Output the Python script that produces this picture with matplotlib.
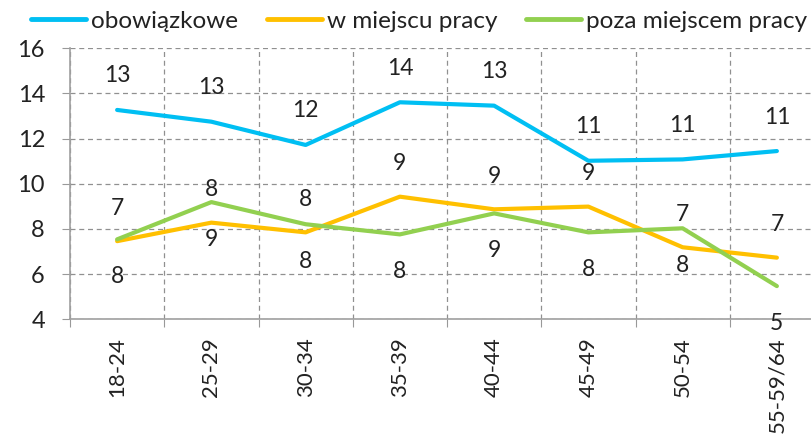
import matplotlib
matplotlib.use("Agg")
import matplotlib.pyplot as plt
import numpy as np

categories = ["18-24", "25-29", "30-34", "35-39", "40-44", "45-49", "50-54", "55-59/64"]
obowiazkowe = [13.27, 12.75, 11.72, 13.61, 13.46, 11.02, 11.08, 11.45]
w_miejscu = [7.46, 8.28, 7.85, 9.43, 8.87, 8.99, 7.19, 6.73]
poza_miejscem = [7.54, 9.19, 8.21, 7.76, 8.69, 7.85, 8.03, 5.47]
series_names = ["obowiązkowe", "w miejscu pracy", "poza miejscem pracy"]
y_ticks = [4, 6, 8, 10, 12, 14, 16]

colors = ["#00BFF3", "#FFC000", "#92D050"]

plt.rcParams['font.family'] = ['Lato', 'DejaVu Sans']

W, H = 812, 436
fig = plt.figure(figsize=(W / 100, H / 100), dpi=100)
ax = fig.add_axes([70 / W, (H - 319.3) / H, 754 / W, 271 / H])

x = np.arange(len(categories)) + 0.5
series = [obowiazkowe, w_miejscu, poza_miejscem]
for vals, name, c in zip(series, series_names, colors):
    ax.plot(x, vals, color=c, lw=3.0, label=name, solid_capstyle='round', zorder=3)

# data labels
lab_fs = 16.5
for xi, v in zip(x, obowiazkowe):
    ax.annotate(f"{round(v)}", (xi, v), xytext=(0, 34), textcoords='offset pixels',
                ha='center', va='center', fontsize=lab_fs, color='#222222')
for xi, v in zip(x, w_miejscu):
    ax.annotate(f"{round(v)}", (xi, v), xytext=(0, 33), textcoords='offset pixels',
                ha='center', va='center', fontsize=lab_fs, color='#222222')
for xi, v in zip(x, poza_miejscem):
    ax.annotate(f"{round(v)}", (xi, v), xytext=(0, -37), textcoords='offset pixels',
                ha='center', va='center', fontsize=lab_fs, color='#222222')

ax.set_xlim(0, len(categories))
ax.set_ylim(4, 16)
ax.set_yticks(y_ticks)
ax.set_yticklabels([str(t) for t in y_ticks], fontsize=17, color='#222222')

ax.set_xticks(np.arange(len(categories) + 1))
ax.set_xticklabels([])
ax.set_xticks(x, minor=True)
ax.set_xticklabels(categories, minor=True, rotation=90, fontsize=16, color='#222222')
ax.tick_params(axis='x', which='minor', length=0, pad=13)
ax.tick_params(axis='x', which='major', length=6, color='#999999', direction='out')
ax.tick_params(axis='y', length=6, color='#999999', direction='out', pad=12)

ax.grid(True, which='major', axis='both', linestyle=(0, (4, 3)), color='#909090', lw=0.9)
ax.set_axisbelow(True)
for s in ['top', 'right']:
    ax.spines[s].set_visible(False)
for s in ['left', 'bottom']:
    ax.spines[s].set_color('#A0A0A0')
    ax.spines[s].set_linewidth(1.2)

leg = fig.legend(loc='center left', bbox_to_anchor=(31.4 / W, 1 - 21.5 / H), ncol=3, frameon=False,
                 fontsize=17.5, handlelength=2.25, handletextpad=0.2, columnspacing=1.2,
                 borderaxespad=0.0, borderpad=0.0)
for t in leg.get_texts():
    t.set_color('#222222')
for l in leg.get_lines():
    l.set_linewidth(3.5)

fig.savefig("out.png", dpi=100)
